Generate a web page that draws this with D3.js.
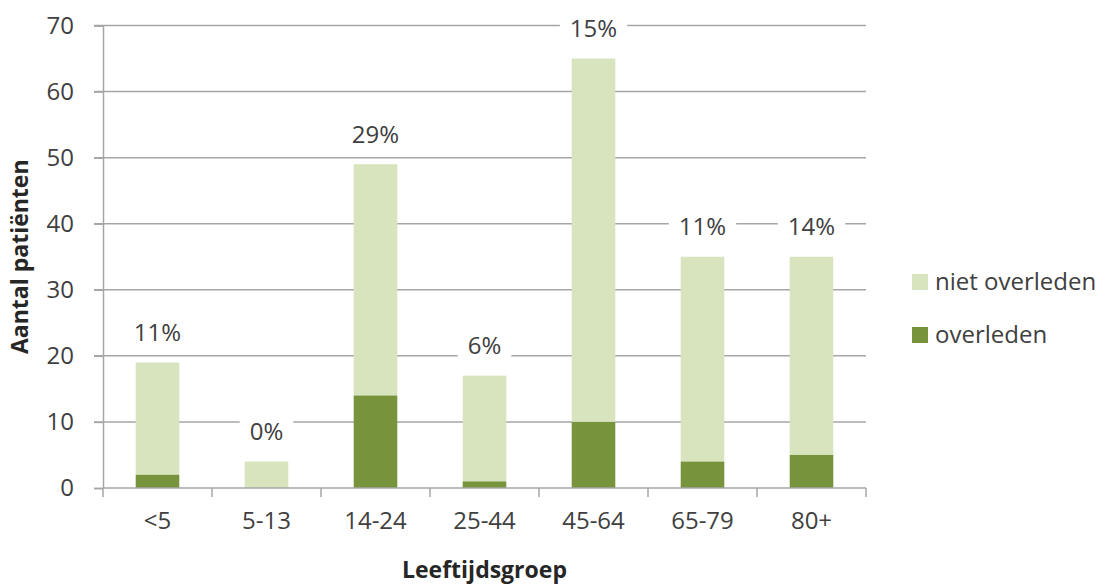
<!DOCTYPE html>
<html>
<head>
<meta charset="utf-8">
<script src="https://cdn.jsdelivr.net/npm/d3@7"></script>
<style>
  body { margin: 0; background: #fff; }
  svg { font-family: "Open Sans", sans-serif; }
</style>
</head>
<body>
<div id="chart"></div>
<script>
// age groups and patient counts
var groups = ["<5", "5-13", "14-24", "25-44", "45-64", "65-79", "80+"];
var overleden = [2, 0, 14, 1, 10, 4, 5];
var nietOverleden = [17, 4, 35, 16, 55, 31, 30];
var percentages = ["11%", "0%", "29%", "6%", "15%", "11%", "14%"];
var yTicks = [0, 10, 20, 30, 40, 50, 60, 70];

var W = 1108, H = 584;
// plot edges (note: "top" is taken by window.top)
var plotLeft = 103, plotRight = 866, plotTop = 25.5, plotBottom = 488;

var svg = d3.select("#chart").append("svg")
    .attr("width", W)
    .attr("height", H);

var x = d3.scaleBand()
    .domain(groups)
    .range([plotLeft, plotRight])
    .paddingInner(0.6)
    .paddingOuter(0.3);

var y = d3.scaleLinear()
    .domain([0, 70])
    .range([plotBottom, plotTop]);

var data = groups.map(function (g, i) {
    return { group: g, dead: overleden[i], alive: nietOverleden[i], pct: percentages[i] };
});

// gridlines
svg.append("g").selectAll("line")
    .data(yTicks.filter(function (t) { return t > 0; }))
    .enter().append("line")
    .attr("x1", plotLeft - 9).attr("x2", plotRight)
    .attr("y1", function (d) { return y(d); })
    .attr("y2", function (d) { return y(d); })
    .attr("stroke", "#a6a6a6")
    .attr("stroke-width", 1.5);

// y axis
var yAxis = svg.append("g")
    .attr("transform", "translate(" + plotLeft + ",0)")
    .call(d3.axisLeft(y).tickValues(yTicks).tickSize(9).tickPadding(20));
yAxis.select(".domain").attr("stroke", "#a6a6a6").attr("stroke-width", 1.5);
yAxis.selectAll(".tick line").attr("stroke", "#a6a6a6").attr("stroke-width", 1.5);
yAxis.selectAll("text")
    .attr("font-size", 24)
    .attr("font-family", "Open Sans, sans-serif")
    .attr("fill", "#404040");

// stacked bars
var bars = svg.append("g").selectAll("g")
    .data(data)
    .enter().append("g");

bars.append("rect")
    .attr("x", function (d) { return x(d.group); })
    .attr("width", x.bandwidth())
    .attr("y", function (d) { return y(d.dead + d.alive); })
    .attr("height", function (d) { return y(d.dead) - y(d.dead + d.alive); })
    .attr("fill", "#d7e4bd");

bars.append("rect")
    .attr("x", function (d) { return x(d.group); })
    .attr("width", x.bandwidth())
    .attr("y", function (d) { return y(d.dead); })
    .attr("height", function (d) { return y(0) - y(d.dead); })
    .attr("fill", "#77933c");

// percentage labels with white box over the gridlines
var labels = svg.append("g").selectAll("g")
    .data(data)
    .enter().append("g")
    .attr("transform", function (d) {
        return "translate(" + (x(d.group) + x.bandwidth() / 2) + "," + (y(d.dead + d.alive) - 30) + ")";
    });

labels.append("text")
    .attr("text-anchor", "middle")
    .attr("dy", "0.35em")
    .attr("font-size", 24)
    .attr("fill", "#404040")
    .text(function (d) { return d.pct; });

labels.each(function () {
    var g = d3.select(this);
    var bb = g.select("text").node().getBBox();
    g.insert("rect", "text")
        .attr("x", bb.x - 10)
        .attr("y", bb.y)
        .attr("width", bb.width + 20)
        .attr("height", bb.height)
        .attr("fill", "#fff");
});

// x axis line and category separators
svg.append("line")
    .attr("x1", plotLeft).attr("x2", plotRight)
    .attr("y1", plotBottom).attr("y2", plotBottom)
    .attr("stroke", "#a6a6a6")
    .attr("stroke-width", 1.5);

var bounds = groups.map(function (g) { return x(g) - x.step() * 0.3; }).concat([plotRight]);
svg.append("g").selectAll("line")
    .data(bounds)
    .enter().append("line")
    .attr("x1", function (d) { return d; })
    .attr("x2", function (d) { return d; })
    .attr("y1", plotBottom).attr("y2", plotBottom + 9)
    .attr("stroke", "#a6a6a6")
    .attr("stroke-width", 1.5);

var xAxis = svg.append("g")
    .attr("transform", "translate(0," + plotBottom + ")")
    .call(d3.axisBottom(x).tickSize(0).tickPadding(24));
xAxis.select(".domain").remove();
xAxis.selectAll("text")
    .attr("font-size", 24)
    .attr("font-family", "Open Sans, sans-serif")
    .attr("fill", "#404040");

// axis titles
svg.append("text")
    .attr("x", (plotLeft + plotRight) / 2)
    .attr("y", 570)
    .attr("dy", "0.35em")
    .attr("text-anchor", "middle")
    .attr("font-size", 23)
    .attr("font-weight", "bold")
    .attr("fill", "#262626")
    .text("Leeftijdsgroep");

svg.append("text")
    .attr("transform", "translate(20," + ((plotTop + plotBottom) / 2) + ") rotate(-90)")
    .attr("dy", "0.35em")
    .attr("text-anchor", "middle")
    .attr("font-size", 23)
    .attr("font-weight", "bold")
    .attr("fill", "#262626")
    .text("Aantal patiënten");

// legend
var legendItems = [
    { name: "niet overleden", color: "#d7e4bd" },
    { name: "overleden", color: "#77933c" }
];
var legend = svg.append("g").selectAll("g")
    .data(legendItems)
    .enter().append("g")
    .attr("transform", function (d, i) { return "translate(912," + (282 + i * 53) + ")"; });

legend.append("rect")
    .attr("x", 0).attr("y", -8)
    .attr("width", 16).attr("height", 16)
    .attr("fill", function (d) { return d.color; });

legend.append("text")
    .attr("x", 23)
    .attr("dy", "0.35em")
    .attr("font-size", 24)
    .attr("fill", "#404040")
    .text(function (d) { return d.name; });
</script>
</body>
</html>
